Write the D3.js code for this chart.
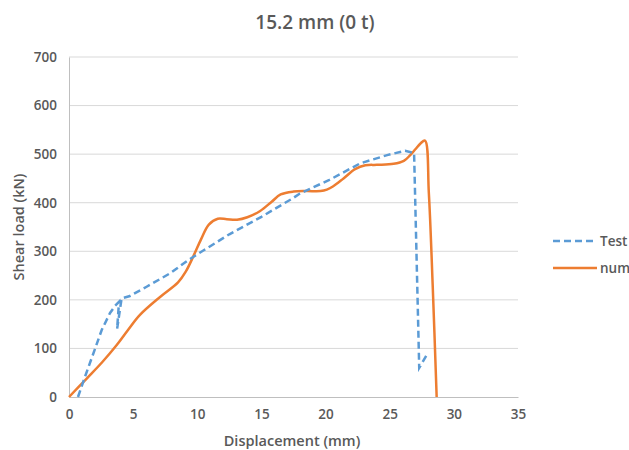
<!DOCTYPE html>
<html><head><meta charset="utf-8">
<script src="https://cdn.jsdelivr.net/npm/d3@7"></script>
<style>body{margin:0;background:#fff;} text{font-family:"Open Sans",sans-serif;}</style>
</head><body>
<svg id="c" width="629" height="450"></svg>
<script>
const title = "15.2 mm (0 t)";
const xTicks = [0,5,10,15,20,25,30,35];
const yTicks = [0,100,200,300,400,500,600,700];
const testX = [0.7,1.25,2.0,2.55,3.2,3.6,3.9,3.75,4.1,4.75,6.05,7.9,9.3,10.5,12.5,15.0,17.5,18.0,20.3,22.7,24.8,26.2,26.9,27.3,28.0];
const testY = [0,42,97,138,173,188,196,140,203,208,227,255,282,302,335,371,410,419,447,481,498,507,502,60,92];
const numX = [0,1.38,2.6,3.72,4.6,5.53,7.1,8.5,9.1,9.7,10.3,10.9,11.6,12.3,13.1,13.9,14.9,15.8,16.5,17.5,18.5,19.6,20.1,20.6,21.4,22.3,23.1,24.0,25.3,26.1,26.6,27.0,27.4,27.75,28.05,28.35,28.66];
const numY = [0,38,72,107,138,169,206,236,258,290,325,355,367,366,365,370,383,402,417,423,424,424,427,434,450,469,477,478,480,486,498,510,522,528,420,230,0];

const svg = d3.select("#c");
const m = {l:69, r:518, t:57, b:397};
const x = d3.scaleLinear().domain([0,35]).range([m.l,m.r]);
const y = d3.scaleLinear().domain([0,700]).range([m.b,m.t]);
const grey = "#595959";

svg.append("g").selectAll("line").data(yTicks.slice(1)).join("line")
  .attr("x1",m.l).attr("x2",m.r).attr("y1",d=>y(d)).attr("y2",d=>y(d))
  .attr("stroke","#d9d9d9").attr("stroke-width",1);

const xa = svg.append("g").attr("transform",`translate(0,${m.b})`)
  .call(d3.axisBottom(x).tickValues(xTicks).tickSize(0).tickPadding(12));
xa.select(".domain").attr("stroke","#bfbfbf");
xa.selectAll("text").attr("fill",grey).attr("font-size",13.5).attr("font-weight",600);

const ya = svg.append("g").attr("transform",`translate(${m.l},0)`)
  .call(d3.axisLeft(y).tickValues(yTicks).tickSize(0).tickPadding(12));
ya.select(".domain").attr("stroke","#bfbfbf");
ya.selectAll("text").attr("fill",grey).attr("font-size",13.5).attr("font-weight",600);

const testData = testX.map((d,i)=>[d,testY[i]]);
const numData = numX.map((d,i)=>[d,numY[i]]);

svg.append("path").datum(numData)
  .attr("d", d3.line().x(d=>x(d[0])).y(d=>y(d[1])).curve(d3.curveCatmullRom.alpha(0.5)))
  .attr("fill","none").attr("stroke","#ED7D31").attr("stroke-width",2.5);

svg.append("path").datum(testData)
  .attr("d", d3.line().x(d=>x(d[0])).y(d=>y(d[1])))
  .attr("fill","none").attr("stroke","#5B9BD5").attr("stroke-width",2.5)
  .attr("stroke-dasharray","7,4");

svg.append("text").attr("x",315).attr("y",29).attr("text-anchor","middle")
  .attr("font-size",19).attr("font-weight",600).attr("fill",grey).text(title);
svg.append("text").attr("x",292).attr("y",446).attr("text-anchor","middle")
  .attr("font-size",14.5).attr("font-weight",600).attr("fill",grey).text("Displacement (mm)");
svg.append("text").attr("transform","translate(24,227) rotate(-90)").attr("text-anchor","middle")
  .attr("font-size",14.5).attr("font-weight",600).attr("fill",grey).text("Shear load (kN)");

const leg = [{n:"Test",c:"#5B9BD5",dash:"7,4",y:241},{n:"num",c:"#ED7D31",dash:null,y:268}];
leg.forEach(l=>{
  svg.append("line").attr("x1",553).attr("x2",597).attr("y1",l.y).attr("y2",l.y)
    .attr("stroke",l.c).attr("stroke-width",2.5).attr("stroke-dasharray",l.dash);
  svg.append("text").attr("x",600).attr("y",l.y+5).attr("font-size",13.5).attr("font-weight",600)
    .attr("fill",grey).text(l.n);
});
</script>
</body></html>
